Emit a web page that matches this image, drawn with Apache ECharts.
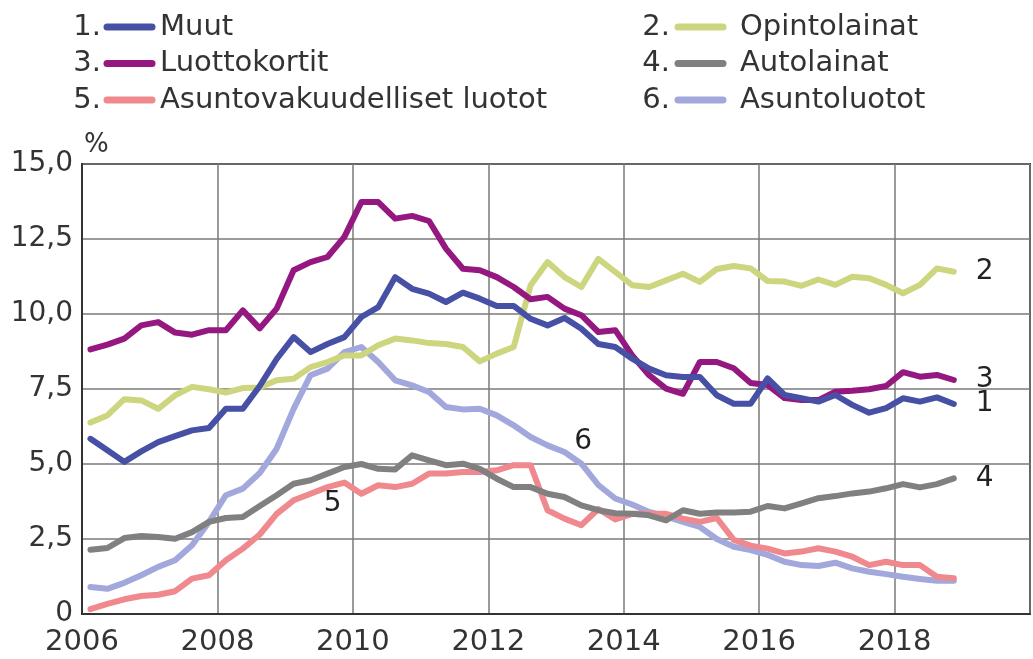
<!DOCTYPE html>
<html>
<head>
<meta charset="utf-8">
<script src="https://cdn.jsdelivr.net/npm/echarts@6/dist/echarts.min.js"></script>
<style>
  html, body { margin: 0; padding: 0; background: #fff; }
  #main { width: 1033px; height: 659px; }
</style>
</head>
<body>
<div id="main"></div>
<script>
// sarjojen nimet ja värit (legendan järjestyksessä 1..6)
var seriesNames = ['Muut', 'Opintolainat', 'Luottokortit', 'Autolainat', 'Asuntovakuudelliset luotot', 'Asuntoluotot'];
var seriesColors = ['#4650a5', '#cdd67f', '#94187f', '#808080', '#f0898d', '#a3a8dc'];

// neljännesvuodet 2006Q1 .. 2018Q4 (neljänneksen keskikohta)
var quarters = [];
for (var y = 2006; y <= 2018; y++) {
  for (var q = 0; q < 4; q++) quarters.push(y + 0.125 + q * 0.25);
}

var muut = [5.84, 5.46, 5.07, 5.42, 5.73, 5.93, 6.12, 6.2, 6.84, 6.84,
  7.6, 8.5, 9.23, 8.73, 9.0, 9.23, 9.9, 10.23, 11.23, 10.84,
  10.68, 10.4, 10.71, 10.51, 10.27, 10.27, 9.84, 9.62, 9.87, 9.51,
  9.0, 8.9, 8.51, 8.18, 7.96, 7.9, 7.9, 7.29, 7.01, 7.01,
  7.85, 7.3, 7.19, 7.08, 7.3, 6.97, 6.71, 6.86, 7.19, 7.08,
  7.22, 7.0];
var opintolainat = [6.38, 6.62, 7.16, 7.12, 6.84, 7.29, 7.57, 7.49, 7.38, 7.53,
  7.55, 7.79, 7.84, 8.23, 8.4, 8.62, 8.62, 8.96, 9.18, 9.12,
  9.03, 9.0, 8.9, 8.42, 8.68, 8.9, 10.96, 11.73, 11.23, 10.9,
  11.84, 11.4, 10.96, 10.9, 11.12, 11.34, 11.07, 11.5, 11.6, 11.52,
  11.1, 11.08, 10.94, 11.15, 10.97, 11.24, 11.19, 10.97, 10.69, 10.97,
  11.52, 11.41];
var luottokortit = [8.82, 8.98, 9.18, 9.62, 9.73, 9.38, 9.31, 9.46, 9.46, 10.12,
  9.52, 10.18, 11.46, 11.73, 11.9, 12.57, 13.73, 13.73, 13.18, 13.27,
  13.1, 12.18, 11.51, 11.46, 11.23, 10.9, 10.49, 10.57, 10.18, 9.96,
  9.4, 9.46, 8.62, 7.96, 7.51, 7.34, 8.4, 8.4, 8.19, 7.7,
  7.63, 7.2, 7.13, 7.13, 7.41, 7.44, 7.49, 7.6, 8.06, 7.91,
  7.97, 7.8];
var autolainat = [2.14, 2.2, 2.53, 2.6, 2.57, 2.51, 2.73, 3.07, 3.2, 3.23,
  3.6, 3.96, 4.34, 4.46, 4.68, 4.9, 5.0, 4.84, 4.82, 5.29,
  5.12, 4.96, 5.01, 4.84, 4.51, 4.23, 4.23, 4.01, 3.9, 3.62,
  3.46, 3.36, 3.34, 3.29, 3.12, 3.46, 3.34, 3.38, 3.38, 3.41,
  3.6, 3.52, 3.69, 3.86, 3.93, 4.02, 4.08, 4.19, 4.33, 4.22,
  4.33, 4.52];
var asuntovakuudelliset = [0.16, 0.34, 0.49, 0.6, 0.64, 0.76, 1.18, 1.29, 1.79, 2.18,
  2.65, 3.34, 3.79, 4.01, 4.23, 4.38, 4.01, 4.29, 4.23, 4.34,
  4.68, 4.68, 4.73, 4.73, 4.79, 4.96, 4.96, 3.46, 3.18, 2.96,
  3.5, 3.15, 3.34, 3.34, 3.34, 3.18, 3.07, 3.2, 2.47, 2.28,
  2.18, 2.02, 2.08, 2.19, 2.08, 1.91, 1.63, 1.74, 1.63, 1.63,
  1.24, 1.19];
var asuntoluotot = [0.9, 0.84, 1.04, 1.29, 1.57, 1.79, 2.29, 3.07, 3.96, 4.18,
  4.7, 5.51, 6.84, 7.96, 8.18, 8.73, 8.9, 8.4, 7.79, 7.62,
  7.4, 6.9, 6.82, 6.84, 6.62, 6.29, 5.9, 5.62, 5.4, 5.01,
  4.3, 3.85, 3.65, 3.4, 3.25, 3.07, 2.9, 2.5, 2.24, 2.13,
  1.97, 1.74, 1.63, 1.6, 1.71, 1.52, 1.41, 1.33, 1.24, 1.17,
  1.11, 1.11];

var allValues = [muut, opintolainat, luottokortit, autolainat, asuntovakuudelliset, asuntoluotot];
// piirtojärjestys: pienempi z alle
var drawZ = [8, 6, 7, 5, 4, 3];
// tekstit viivojen sisällä (sarjat 5 ja 6): [vuosi, arvo]
var innerLabelAt = { 4: [2009.7, 3.67], 5: [2013.4, 5.73] };

var FONT = '"DejaVu Sans", Verdana, sans-serif';
var chart = echarts.init(document.getElementById('main'));

var series = allValues.map(function (vals, k) {
  var s = {
    name: seriesNames[k],
    type: 'line',
    z: drawZ[k],
    symbol: 'none',
    silent: true,
    lineStyle: { color: seriesColors[k], width: 6, cap: 'round', join: 'round' },
    itemStyle: { color: seriesColors[k] },
    data: quarters.map(function (t, i) { return [t, vals[i]]; })
  };
  if (innerLabelAt[k]) {
    s.markPoint = {
      symbol: 'circle', symbolSize: 1,
      itemStyle: { color: 'rgba(0,0,0,0)' },
      label: { show: true, position: 'inside', formatter: String(k + 1), fontSize: 28, color: '#222', fontFamily: FONT },
      data: [{ coord: innerLabelAt[k] }]
    };
  } else {
    s.endLabel = { show: true, formatter: String(k + 1), distance: 22, fontSize: 28, color: '#222', fontFamily: FONT };
  }
  return s;
});

// legenda kahteen sarakkeeseen
var legendGraphic = [];
var numRight = [101, 670], lineX = [[107, 152], [678, 723]], nameX = [160, 740];
var rowY = [27, 63.5, 100];
seriesNames.forEach(function (name, k) {
  var col = k % 2, row = Math.floor(k / 2);
  legendGraphic.push({
    type: 'text', x: numRight[col], y: rowY[row],
    style: { text: (k + 1) + '.', fill: '#333', font: '29px ' + FONT, align: 'right', verticalAlign: 'middle' }
  });
  legendGraphic.push({
    type: 'line', shape: { x1: lineX[col][0], y1: rowY[row], x2: lineX[col][1], y2: rowY[row] },
    style: { stroke: seriesColors[k], lineWidth: 7, lineCap: 'round' }
  });
  legendGraphic.push({
    type: 'text', x: nameX[col], y: rowY[row],
    style: { text: name, fill: '#333', font: '29px ' + FONT, align: 'left', verticalAlign: 'middle' }
  });
});

chart.setOption({
  animation: false,
  backgroundColor: '#fff',
  textStyle: { fontFamily: FONT },
  grid: { left: 82, right: -5, top: 164, bottom: 45, show: true, borderColor: '#333', borderWidth: 2, backgroundColor: 'rgba(0,0,0,0)' },
  graphic: legendGraphic,
  xAxis: {
    type: 'value', min: 2006, max: 2020, interval: 2,
    axisLine: { show: true, lineStyle: { color: '#333', width: 2 } },
    axisTick: { show: false },
    axisLabel: {
      fontSize: 29, color: '#333', margin: 14,
      formatter: function (v) { return v >= 2020 ? '' : String(v); }
    },
    splitLine: { show: true, lineStyle: { color: '#7a7a7a', width: 1.5 } }
  },
  yAxis: {
    type: 'value', min: 0, max: 15, interval: 2.5,
    name: '%', nameLocation: 'end', nameGap: 6,
    nameTextStyle: { fontSize: 26, color: '#333', align: 'left', verticalAlign: 'bottom', padding: [0, 0, 0, 2] },
    axisLine: { show: true, lineStyle: { color: '#333', width: 2 } },
    axisTick: { show: false },
    axisLabel: {
      fontSize: 28, color: '#333', margin: 9,
      formatter: function (v) { return v === 0 ? '0' : v.toFixed(1).replace('.', ','); }
    },
    splitLine: { show: true, lineStyle: { color: '#7a7a7a', width: 1.5 } }
  },
  series: series
});
</script>
</body>
</html>
